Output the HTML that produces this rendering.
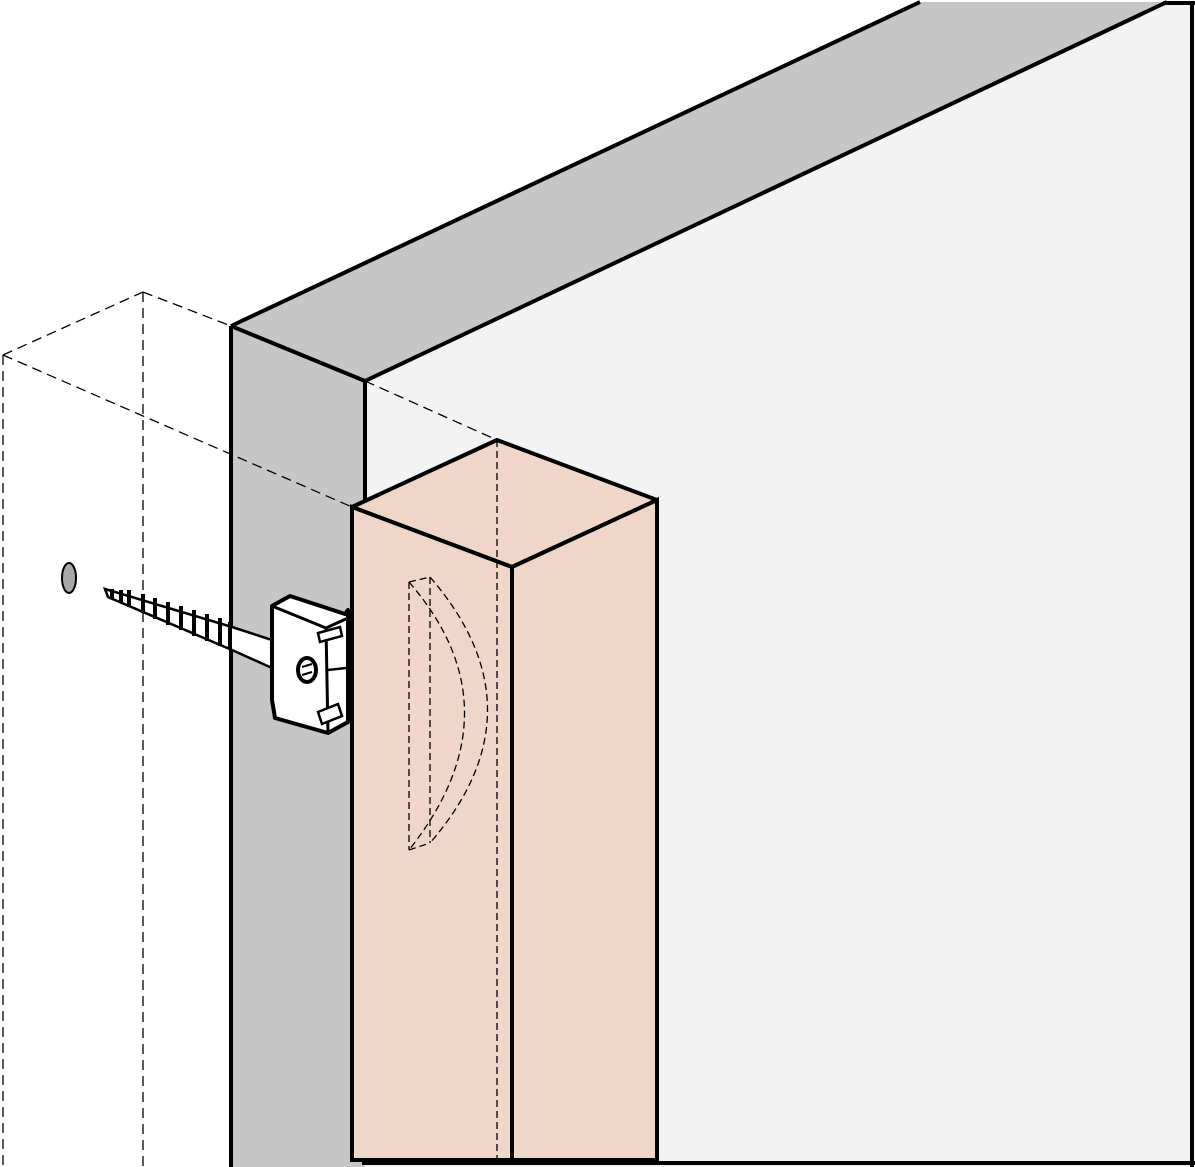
<!DOCTYPE html>
<html><head><meta charset="utf-8"><style>body{margin:0;background:#fff}svg{display:block}</style></head><body>
<svg width="1195" height="1167" viewBox="0 0 1195 1167" xmlns="http://www.w3.org/2000/svg">
<polygon points="365,381 1165,2 1191,2 1191,1167 365,1167" fill="#f4f3f4"/>
<polygon points="231,326 920,2 1165,2 365,381" fill="#c6c6c6"/>
<polygon points="231,326 365,381 365,1167 231,1167" fill="#c6c6c6"/>
<g stroke="#000" stroke-width="4" fill="none">
<line x1="231" y1="326" x2="920" y2="2"/>
<line x1="365" y1="381" x2="1167" y2="2"/>
<line x1="1163" y1="3" x2="1195" y2="3"/>
<line x1="1192" y1="2" x2="1192" y2="1167"/>
<line x1="231" y1="326" x2="365" y2="381"/>
<line x1="231" y1="326" x2="231" y2="1167"/>
<line x1="365" y1="381" x2="365" y2="510"/>
<line x1="362" y1="1163" x2="1195" y2="1163"/>
</g>
<g stroke="#000" stroke-width="1.3" fill="none" stroke-dasharray="10,6">
<line x1="3" y1="355" x2="143" y2="292"/>
<line x1="3" y1="355" x2="3" y2="1167"/>
<line x1="143" y1="292" x2="143" y2="1167"/>
<line x1="143" y1="292" x2="231" y2="326"/>
<line x1="3" y1="355" x2="352" y2="507"/>
<line x1="365" y1="381" x2="497" y2="440"/>
</g>
<polygon points="352,507 497,440 657,500 512,567" fill="#efd6c8" stroke="#000" stroke-width="4" stroke-linejoin="round"/>
<polygon points="352,507 512,567 512,1160 352,1160" fill="#efd6c8" stroke="#000" stroke-width="4"/>
<polygon points="512,567 657,500 657,1160 512,1160" fill="#efd6c8" stroke="#000" stroke-width="4"/>
<g stroke="#000" stroke-width="1.3" fill="none" stroke-dasharray="7,4">
<line x1="497" y1="440" x2="497" y2="1160"/>
<line x1="409" y1="582" x2="409" y2="850"/>
<line x1="430" y1="577" x2="430" y2="843"/>
<line x1="409" y1="582" x2="430" y2="577"/>
<line x1="409" y1="850" x2="430" y2="843"/>
<path d="M409,582 Q520,710 409,850"/>
<path d="M430,577 Q545,710 430,843"/>
</g>
<ellipse cx="69" cy="578" rx="7" ry="15" fill="#a8a8a8" stroke="#000" stroke-width="2"/>
<g stroke="#000" fill="#fff">
<polygon points="105,589 232,627 272,640 272,668 232,650 108,597" stroke-width="2.5"/>
<g stroke-width="4">
<line x1="112" y1="589" x2="112" y2="599"/><line x1="121" y1="590" x2="121" y2="603"/>
<line x1="129" y1="590" x2="129" y2="607"/><line x1="143" y1="594" x2="143" y2="613"/>
<line x1="155" y1="598" x2="155" y2="619"/><line x1="168" y1="602" x2="168" y2="625"/>
<line x1="181" y1="606" x2="181" y2="630"/><line x1="194" y1="610" x2="194" y2="636"/>
<line x1="207" y1="614" x2="207" y2="641"/><line x1="220" y1="618" x2="220" y2="646"/>
<line x1="230" y1="622" x2="230" y2="650"/>
</g>
<polygon points="272,606 290,596 345,614 348,610 348,722 328,733 275,718 272,700" stroke-width="4" stroke-linejoin="round"/>
<polyline points="272,606 326,628 348,618" fill="none" stroke-width="3"/>
<line x1="326" y1="628" x2="328" y2="733" stroke-width="3"/>
<line x1="328" y1="670" x2="346" y2="668" stroke-width="2.5"/>
<polygon points="318,633 340,627 342,636 320,642" stroke-width="2.5"/>
<polygon points="318,712 338,704 342,716 322,724" stroke-width="2.5"/>
<ellipse cx="307" cy="670" rx="9" ry="12" stroke-width="4"/>
<line x1="302" y1="667" x2="312" y2="664" stroke-width="2"/>
<line x1="302" y1="675" x2="312" y2="672" stroke-width="2"/>
</g>
</svg>
</body></html>
